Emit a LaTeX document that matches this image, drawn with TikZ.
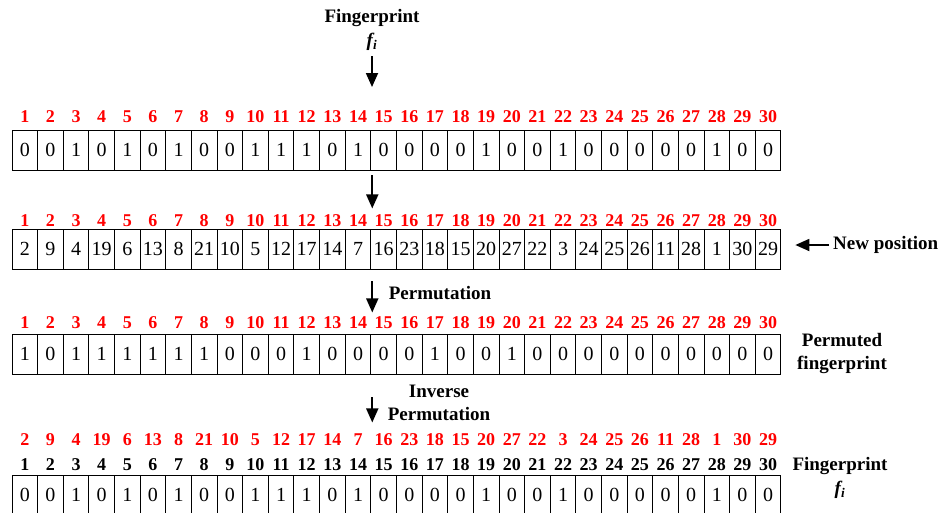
\documentclass[tikz,border=0pt]{standalone}
\usepackage{fontspec}
\setmainfont{Liberation Serif}
\usetikzlibrary{arrows.meta,positioning}
\definecolor{IdxRed}{HTML}{FF0000}
\tikzset{
  cell/.style={draw,line width=0.9pt,minimum width=25.63pt,minimum height=40pt,
    inner sep=0pt,font=\fontsize{20}{22}\selectfont},
  idx/.style={inner sep=0pt,font=\fontsize{18}{20}\selectfont\bfseries,text=IdxRed},
  idxblack/.style={idx,text=black},
  lbl/.style={inner sep=0pt,align=center,font=\fontsize{19}{23}\selectfont\bfseries},
  flow/.style={line width=1.8pt,-{Triangle[length=14pt,width=12pt]}}
}

\begin{document}
\begin{tikzpicture}[x=1pt,y=-1pt]
  \useasboundingbox (0,0) rectangle (943,512);
  \clip (0,0) rectangle (943,512);
  % input fingerprint
  \node[lbl] (fptop) at (372,18) {Fingerprint};
  \node[lbl] (fitop) at (372,42) {\textit{f\textsubscript{i}}};
  \coordinate (in1) at (372,87);
  \draw[flow] (372,56) -- (in1);
  % row 1: original bits
  \foreach \v [count=\i] in {0,0,1,0,1,0,1,0,0,1,1,1,0,1,0,0,0,0,1,0,0,1,0,0,0,0,0,1,0,0} {
    \node[cell] (a\i) at ({12+25.63*(\i-0.5)},150) {\v};
    \node[idx] (ia\i) at ({12+25.63*(\i-0.5)},117) {\i};
  }
  \coordinate (in2) at ([xshift=1pt,yshift=-38pt]a14.south east);
  \draw[flow] ([xshift=1pt,yshift=-5pt]a14.south east) -- (in2);
  % row 2: new positions
  \foreach \v [count=\i] in {2,9,4,19,6,13,8,21,10,5,12,17,14,7,16,23,18,15,20,27,22,3,24,25,26,11,28,1,30,29} {
    \node[cell] (b\i) at ({12+25.63*(\i-0.5)},249) {\v};
    \node[idx] (ib\i) at ({12+25.63*(\i-0.5)},221) {\i};
  }
  \node[lbl,anchor=west] (newpos) at (833,245) {New position};
  \draw[flow] ([xshift=-4pt]newpos.west) -- ([xshift=14pt,yshift=4pt]b30.east);
  \coordinate (in3) at ([xshift=1pt,yshift=-43pt]b14.south east);
  \draw[flow] ([xshift=1pt,yshift=-12pt]b14.south east) -- (in3);
  \node[lbl] (perm) at (440,293) {Permutation};
  % row 3: permuted bits
  \foreach \v [count=\i] in {1,0,1,1,1,1,1,1,0,0,0,1,0,0,0,0,1,0,0,1,0,0,0,0,0,0,0,0,0,0} {
    \node[cell] (c\i) at ({12+25.63*(\i-0.5)},354) {\v};
    \node[idx] (ic\i) at ({12+25.63*(\i-0.5)},323) {\i};
  }
  \node[lbl] (permfp) at (842,353) {Permuted\\fingerprint};
  \coordinate (in4) at ([xshift=1pt,yshift=-48pt]c14.south east);
  \draw[flow] ([xshift=1pt,yshift=-23pt]c14.south east) -- (in4);
  \node[lbl] (invperm) at (439,403) {Inverse\\Permutation};
  % row 4: recovered bits
  \foreach \v [count=\i] in {0,0,1,0,1,0,1,0,0,1,1,1,0,1,0,0,0,0,1,0,0,1,0,0,0,0,0,1,0,0} {
    \node[cell] (d\i) at ({12+25.63*(\i-0.5)},495) {\v};
    \node[idxblack] (id\i) at ({12+25.63*(\i-0.5)},465) {\i};
  }
  \foreach \p [count=\i] in {2,9,4,19,6,13,8,21,10,5,12,17,14,7,16,23,18,15,20,27,22,3,24,25,26,11,28,1,30,29}
    \node[idx] (ie\i) at ({12+25.63*(\i-0.5)},440) {\p};
  \node[lbl] (fpbot) at (840,466) {Fingerprint};
  \node[lbl] (fibot) at (840,490) {\textit{f\textsubscript{i}}};
\end{tikzpicture}
\end{document}
